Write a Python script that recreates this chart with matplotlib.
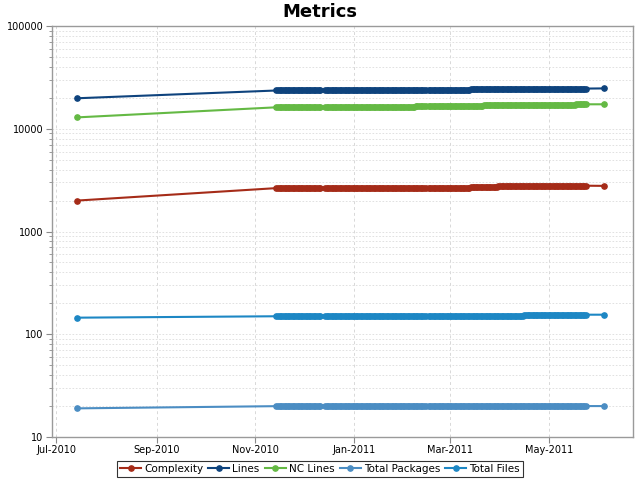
import matplotlib
matplotlib.use("Agg")
import matplotlib.pyplot as plt
import matplotlib.dates as mdates
import matplotlib.ticker as mticker
import pandas as pd

series_names = ["Complexity", "Lines", "NC Lines", "Total Packages", "Total Files"]
colors = ["#a52b18", "#0e437d", "#64b944", "#4b8dc3", "#1d87c4"]

first_date = "2010-07-14"
last_date = "2011-06-04"
first_values = [2000, 19800, 12900, 19, 145]
last_values = [2780, 24700, 17300, 20, 155]

# periods with (roughly daily) measurements: start, end and value held in that period
complexity_starts = ["2010-11-14", "2010-12-14", "2011-02-16", "2011-03-14", "2011-03-31"]
complexity_ends = ["2010-12-11", "2011-02-14", "2011-03-13", "2011-03-30", "2011-05-24"]
complexity_vals = [2650, 2650, 2650, 2720, 2790]

lines_starts = ["2010-11-14", "2010-12-14", "2011-02-16", "2011-03-14", "2011-04-06"]
lines_ends = ["2010-12-11", "2011-02-14", "2011-03-13", "2011-04-05", "2011-05-24"]
lines_vals = [23600, 23600, 23700, 24100, 24600]

nclines_starts = ["2010-11-14", "2010-12-14", "2011-02-08", "2011-02-16", "2011-03-22", "2011-05-18"]
nclines_ends = ["2010-12-11", "2011-02-07", "2011-02-14", "2011-03-21", "2011-05-17", "2011-05-24"]
nclines_vals = [16200, 16300, 16500, 16500, 16900, 17300]

packages_starts = ["2010-11-14", "2010-12-14", "2011-02-16"]
packages_ends = ["2010-12-11", "2011-02-14", "2011-05-24"]
packages_vals = [20, 20, 20]

files_starts = ["2010-11-14", "2010-12-14", "2011-02-16", "2011-04-16"]
files_ends = ["2010-12-11", "2011-02-14", "2011-04-15", "2011-05-24"]
files_vals = [150, 150, 150, 155]

periods = [
    (complexity_starts, complexity_ends, complexity_vals),
    (lines_starts, lines_ends, lines_vals),
    (nclines_starts, nclines_ends, nclines_vals),
    (packages_starts, packages_ends, packages_vals),
    (files_starts, files_ends, files_vals),
]

fig = plt.figure(figsize=(6.4, 4.8), dpi=100)
ax = fig.add_axes([52 / 640, 1 - 437 / 480, (633 - 52) / 640, (437 - 26) / 480])

for i, name in enumerate(series_names):
    starts, ends, vals = periods[i]
    xs = [pd.Timestamp(first_date)]
    ys = [first_values[i]]
    for s, e, v in zip(starts, ends, vals):
        d = pd.date_range(s, e, freq="D")
        xs.extend(list(d))
        ys.extend([v] * len(d))
    xs.append(pd.Timestamp(last_date))
    ys.append(last_values[i])
    ax.plot(xs, ys, "-o", color=colors[i], lw=1.5, ms=3.8, label=name, zorder=3)

ax.set_yscale("log")
ax.set_ylim(10, 100000)
ax.yaxis.set_major_locator(mticker.LogLocator(base=10, numticks=10))
ax.yaxis.set_minor_locator(mticker.LogLocator(base=10, subs=range(2, 10), numticks=20))
ax.yaxis.set_major_formatter(mticker.FuncFormatter(lambda v, p: f"{int(round(v))}"))
ax.yaxis.set_minor_formatter(mticker.NullFormatter())

ax.set_xlim(pd.Timestamp("2010-06-28 12:00"), pd.Timestamp("2011-06-22"))
ax.xaxis.set_major_locator(mdates.MonthLocator(bymonth=[1, 3, 5, 7, 9, 11]))
ax.xaxis.set_major_formatter(mdates.DateFormatter("%b-%Y"))

ax.grid(True, which="both", axis="y", color="#dcdcdc", ls=(0, (2, 2)), lw=0.6, zorder=0)
ax.grid(True, which="major", axis="x", color="#d8d8d8", ls=(0, (3, 3)), lw=0.7, zorder=0)

for sp in ax.spines.values():
    sp.set_color("#9a9a9a")
    sp.set_linewidth(1.0)
ax.tick_params(axis="both", which="major", length=4, color="#8a8a8a", labelsize=7, pad=2)
ax.tick_params(axis="y", which="minor", length=2, color="#8a8a8a")
ax.tick_params(axis="x", which="minor", length=0)

fig.suptitle("Metrics", x=0.5, y=0.975, va="center", fontsize=13, fontweight="bold")

leg = fig.legend(loc="lower center", bbox_to_anchor=(0.5, 0.002), ncol=5, fontsize=7.5,
                 frameon=True, fancybox=False, edgecolor="black", handlelength=2.0,
                 handletextpad=0.3, columnspacing=0.5, borderpad=0.3, borderaxespad=0.2)
leg.get_frame().set_linewidth(0.8)

fig.savefig("out.png", dpi=100)
